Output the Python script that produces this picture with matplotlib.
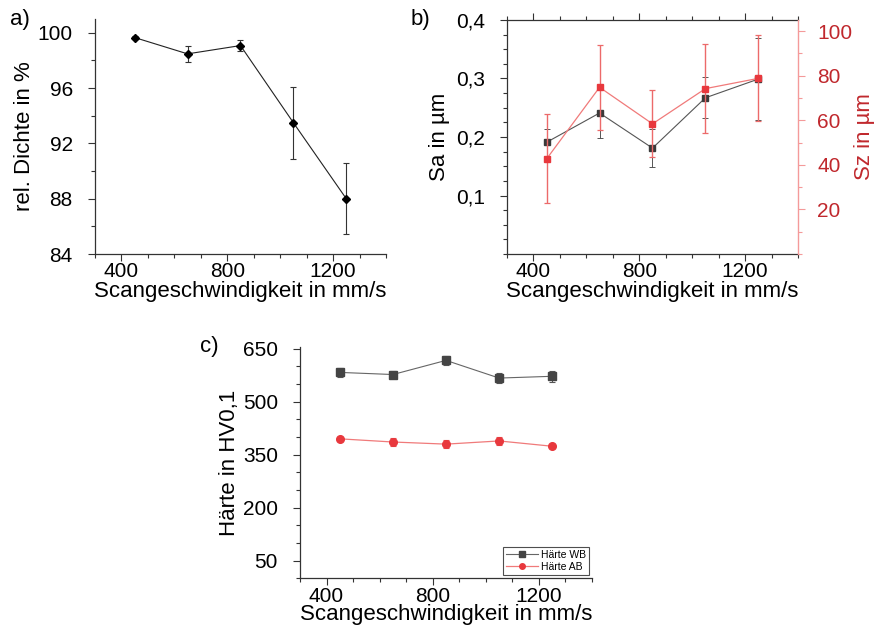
import matplotlib.pyplot as plt
from matplotlib.lines import Line2D
from matplotlib.ticker import MultipleLocator, FuncFormatter

plt.rcParams['font.family'] = ['Liberation Sans', 'DejaVu Sans']

speed = [450, 650, 850, 1050, 1250]

# a) relative density
density = [99.66, 98.48, 99.08, 93.5, 88.0]
density_err = [0.1, 0.6, 0.37, 2.6, 2.56]

# b) surface roughness
sa = [0.191, 0.241, 0.181, 0.267, 0.299]
sa_err = [0.023, 0.043, 0.033, 0.035, 0.07]
sz = [42.7, 74.8, 58.4, 74.2, 78.8]
sz_err = [20.0, 19.0, 15.0, 20.0, 19.3]

# c) hardness
hv_wb = [583, 577, 617, 567, 572]
hv_wb_err = [13, 10, 13, 15, 15]
hv_ab = [395, 386, 380, 389, 374]
hv_ab_err = [6, 12, 12, 12, 4]

TICK_FS = 15
LABEL_FS = 16
AXIS_COL = '#333333'
RED = '#e8383d'
RED_LINE = '#f07a7a'
RED_TEXT = '#c0282d'
RED_SPINE = '#f49a9a'


def comma(v, pos):
    return f'{v:.1f}'.replace('.', ',')


def style_axis(ax, ylim, ymajor, yminor):
    ax.set_xlim(300, 1400)
    ax.set_ylim(*ylim)
    ax.xaxis.set_major_locator(MultipleLocator(400))
    ax.xaxis.set_minor_locator(MultipleLocator(100))
    ax.yaxis.set_major_locator(MultipleLocator(ymajor))
    ax.yaxis.set_minor_locator(MultipleLocator(yminor))
    for s in ax.spines.values():
        s.set_color(AXIS_COL)
        s.set_linewidth(0.9)
    ax.tick_params(which='both', direction='out', color=AXIS_COL, width=0.8,
                   labelsize=TICK_FS)
    ax.tick_params(axis='x', pad=1)
    ax.tick_params(axis='y', pad=11)
    ax.tick_params(which='major', length=5)
    ax.tick_params(which='minor', length=3)
    ax.set_xlabel('Scangeschwindigkeit in mm/s', fontsize=LABEL_FS, labelpad=0)


fig = plt.figure(figsize=(8.78, 6.28), dpi=100)

# ---- a) ----
ax_a = fig.add_axes([0.1082, 0.5955, 0.3314, 0.3742])
ax_a.errorbar(speed, density, yerr=density_err, color='#222222', lw=0.8,
              marker='D', ms=4.5, mfc='black', mec='black',
              ecolor='#333333', elinewidth=0.8, capsize=2.5, capthick=0.8)
style_axis(ax_a, (84, 101), 4, 2)
ax_a.spines['top'].set_visible(False)
ax_a.spines['right'].set_visible(False)
ax_a.set_ylabel('rel. Dichte in %', fontsize=LABEL_FS, labelpad=2)
fig.text(0.011, 0.985, 'a)', fontsize=LABEL_FS, va='top')

# ---- b) ----
ax_b = fig.add_axes([0.5774, 0.5955, 0.3315, 0.3727])
ax_b.errorbar(speed, sa, yerr=sa_err, color='#555555', lw=0.8,
              marker='s', ms=4.5, mfc='#3a3a3a', mec='#3a3a3a',
              ecolor='#555555', elinewidth=0.7, capsize=2.5, capthick=0.7,
              zorder=3)
style_axis(ax_b, (0, 0.4), 0.1, 0.025)
ax_b.yaxis.set_major_formatter(FuncFormatter(comma))
ax_b.set_yticks([0.1, 0.2, 0.3, 0.4])
ax_b.tick_params(axis='x', which='both', top=True)
ax_b.spines['right'].set_visible(False)
ax_b.set_ylabel('Sa in µm', fontsize=LABEL_FS, labelpad=4)
fig.text(0.468, 0.985, 'b)', fontsize=LABEL_FS, va='top')

ax_bz = ax_b.twinx()
ax_bz.errorbar(speed, sz, yerr=sz_err, color=RED_LINE, lw=0.9,
               marker='s', ms=5, mfc=RED, mec=RED,
               ecolor='#ec6a6a', elinewidth=1.0, capsize=2.5, capthick=0.9,
               zorder=4)
ax_bz.set_ylim(0, 105)
ax_bz.yaxis.set_major_locator(MultipleLocator(20))
ax_bz.yaxis.set_minor_locator(MultipleLocator(10))
ax_bz.set_yticks([20, 40, 60, 80, 100])
for name in ('left', 'top', 'bottom'):
    ax_bz.spines[name].set_visible(False)
ax_bz.spines['right'].set_color(RED_SPINE)
ax_bz.spines['right'].set_linewidth(1.0)
ax_bz.tick_params(which='both', direction='out', color=RED_SPINE, width=0.8,
                  labelsize=TICK_FS, labelcolor=RED_TEXT, pad=9)
ax_bz.tick_params(which='major', length=5)
ax_bz.tick_params(which='minor', length=3)
ax_bz.set_ylabel('Sz in µm', fontsize=LABEL_FS, color=RED_TEXT, labelpad=1)

# ---- c) ----
ax_c = fig.add_axes([0.3417, 0.079, 0.3326, 0.3685])
ax_c.errorbar(speed, hv_wb, yerr=hv_wb_err, color='#666666', lw=0.8,
              marker='s', ms=5.5, mfc='#444444', mec='#444444',
              ecolor='#555555', elinewidth=0.8, capsize=2.5, capthick=0.8)
ax_c.errorbar(speed, hv_ab, yerr=hv_ab_err, color=RED_LINE, lw=0.9,
              marker='o', ms=5.5, mfc=RED, mec=RED,
              ecolor='#e85555', elinewidth=0.8, capsize=2.5, capthick=0.8)
style_axis(ax_c, (0, 655), 150, 50)
ax_c.set_yticks([50, 200, 350, 500, 650])
ax_c.spines['top'].set_visible(False)
ax_c.spines['right'].set_visible(False)
ax_c.set_ylabel('Härte in HV0,1', fontsize=LABEL_FS, labelpad=2)
ax_c.xaxis.labelpad = -1

handles = [
    Line2D([], [], color='#666666', lw=0.8, marker='s', ms=4,
           mfc='#444444', mec='#444444', label='Härte WB'),
    Line2D([], [], color=RED_LINE, lw=0.9, marker='o', ms=4,
           mfc=RED, mec=RED, label='Härte AB'),
]
leg = ax_c.legend(handles=handles, loc='lower right', fontsize=7.5,
                  frameon=True, fancybox=False, edgecolor='#222222',
                  borderpad=0.3, handlelength=3.0, handletextpad=0.3,
                  labelspacing=0.2, borderaxespad=0.3)
leg.get_frame().set_linewidth(0.8)
fig.text(0.228, 0.465, 'c)', fontsize=LABEL_FS, va='top')

fig.savefig('out.png', dpi=100)
